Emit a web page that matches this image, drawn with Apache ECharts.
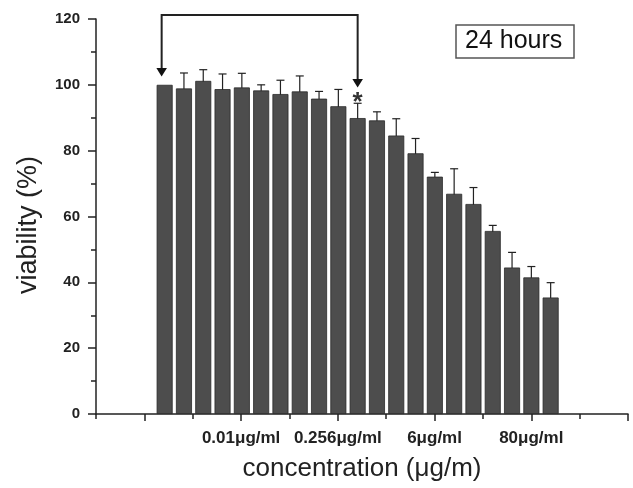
<!DOCTYPE html>
<html>
<head>
<meta charset="utf-8">
<script src="https://cdn.jsdelivr.net/npm/echarts@6/dist/echarts.min.js"></script>
<style>
  html, body { margin: 0; background: #fff; }
  #viabilityChart { width: 633px; height: 488px; }
</style>
</head>
<body>
<div id="viabilityChart"></div>
<script>
// mean viability (%) per concentration, 24 h
const viability = [100, 98.9, 101.2, 98.7, 99.2, 98.3, 97.2, 98.0, 95.8, 93.5, 89.9,
  89.2, 84.6, 79.2, 72.1, 66.9, 63.8, 55.6, 44.5, 41.5, 35.4];
// standard deviation
const sd = [0, 4.7, 3.4, 4.6, 4.3, 1.7, 4.2, 4.7, 2.2, 5.1, 4.5,
  2.6, 5.1, 4.5, 1.3, 7.6, 5.0, 1.7, 4.6, 3.3, 4.5];
const xTickLabels = ["", "", "", "0.01μg/ml", "", "0.256μg/ml", "", "6μg/ml", "", "80μg/ml", "", ""];
const yTicks = [0, 20, 40, 60, 80, 100, 120];

// comparison bracket between control and the first significant bar
const bracketFrom = 0;
const bracketTo = 10;
const bracketTop = 121.2;
const bracketLeftTip = 102.5;
const bracketRightTip = 99.2;
const starValue = 94.6;

const ink = "#222";
const font = "Liberation Sans";
const chart = echarts.init(document.getElementById("viabilityChart"));

chart.setOption({
  animation: false,
  title: {
    text: "24 hours",
    left: 456,
    top: 25,
    padding: [3, 12, 4, 9],
    borderColor: "#555",
    borderWidth: 1.5,
    textStyle: {
      fontFamily: font,
      fontSize: 25,
      fontWeight: "normal",
      color: "#111",
      lineHeight: 26,
    },
  },
  grid: [
    // axes frame
    { left: 96, right: 5, top: 19, bottom: 74 },
    // bars
    { left: 155, right: 72.7, top: 19, bottom: 74 },
    // labelled (longer) x ticks, starting one step in
    { left: 144.4, right: 5, top: 19, bottom: 74 },
  ],
  xAxis: [
    {
      gridIndex: 0,
      type: "value",
      min: 0,
      max: 11,
      interval: 1,
      name: "concentration (μg/m)",
      nameLocation: "middle",
      nameGap: 42,
      nameTextStyle: { fontFamily: font, fontSize: 26, color: ink },
      axisLine: { show: true, lineStyle: { color: ink, width: 1.5 } },
      axisTick: { show: true, length: 5, lineStyle: { color: ink, width: 1.5 } },
      axisLabel: { show: false },
      splitLine: { show: false },
    },
    { gridIndex: 1, type: "category", show: false, boundaryGap: true },
    {
      gridIndex: 2,
      type: "value",
      min: 1,
      max: 11,
      interval: 2,
      axisLine: { show: false },
      axisTick: { show: true, length: 7, lineStyle: { color: ink, width: 1.5 } },
      axisLabel: {
        formatter: (v) => xTickLabels[v] || "",
        fontFamily: font,
        fontWeight: "bold",
        fontSize: 17,
        color: ink,
        margin: 16,
      },
      splitLine: { show: false },
    },
  ],
  yAxis: [
    {
      gridIndex: 0,
      type: "value",
      min: yTicks[0],
      max: yTicks[yTicks.length - 1],
      interval: 20,
      name: "viability (%)",
      nameLocation: "middle",
      nameGap: 54,
      nameTextStyle: {
        fontFamily: font,
        fontSize: 27,
        color: ink,
        padding: [0, 17, 0, 0],
      },
      axisLine: { show: true, lineStyle: { color: ink, width: 1.5 } },
      axisTick: { show: true, length: 8, lineStyle: { color: ink, width: 1.5 } },
      minorTick: { show: true, splitNumber: 2, length: 5, lineStyle: { color: ink, width: 1.5 } },
      axisLabel: {
        fontFamily: font,
        fontWeight: "bold",
        fontSize: 15,
        color: ink,
        margin: 16,
      },
      splitLine: { show: false },
    },
    { gridIndex: 1, type: "value", show: false, min: 0, max: 120 },
    { gridIndex: 2, type: "value", show: false, min: 0, max: 120 },
  ],
  series: [
    {
      type: "bar",
      xAxisIndex: 1,
      yAxisIndex: 1,
      barWidth: 16,
      data: viability,
      itemStyle: { color: "#4d4d4d", borderColor: "#2a2a2a", borderWidth: 0.8 },
    },
    {
      // error bars
      type: "custom",
      xAxisIndex: 1,
      yAxisIndex: 1,
      data: viability.map((v, i) => [i, v - sd[i], v + sd[i]]),
      renderItem(params, api) {
        if (api.value(1) === api.value(2)) return null;
        const lo = api.coord([api.value(0), api.value(1)]);
        const hi = api.coord([api.value(0), api.value(2)]);
        const w = 4;
        const style = { stroke: ink, lineWidth: 1.2 };
        return {
          type: "group",
          children: [
            { type: "line", shape: { x1: lo[0], y1: lo[1], x2: hi[0], y2: hi[1] }, style },
            { type: "line", shape: { x1: hi[0] - w, y1: hi[1], x2: hi[0] + w, y2: hi[1] }, style },
            { type: "line", shape: { x1: lo[0] - w, y1: lo[1], x2: lo[0] + w, y2: lo[1] }, style },
          ],
        };
      },
    },
    {
      // bracket with arrows and asterisk
      type: "custom",
      xAxisIndex: 1,
      yAxisIndex: 1,
      clip: false,
      data: [[bracketFrom, bracketTo]],
      renderItem(params, api) {
        const l = api.coord([api.value(0), bracketLeftTip]);
        const r = api.coord([api.value(1), bracketRightTip]);
        const top = api.coord([api.value(0), bracketTop])[1];
        const lx = l[0] - 3;
        const rx = r[0];
        const ah = 8.5;
        const aw = 5.3;
        const star = api.coord([api.value(1), starValue]);
        return {
          type: "group",
          children: [
            {
              type: "polyline",
              shape: { points: [[lx, l[1] - ah], [lx, top], [rx, top], [rx, r[1] - ah]] },
              style: { stroke: ink, lineWidth: 2, fill: null },
            },
            {
              type: "polygon",
              shape: { points: [[lx - aw, l[1] - ah], [lx + aw, l[1] - ah], [lx, l[1]]] },
              style: { fill: "#111" },
            },
            {
              type: "polygon",
              shape: { points: [[rx - aw, r[1] - ah], [rx + aw, r[1] - ah], [rx, r[1]]] },
              style: { fill: "#111" },
            },
            {
              type: "text",
              x: star[0],
              y: star[1],
              style: {
                text: "*",
                fontFamily: font,
                fontWeight: "bold",
                fontSize: 26,
                fill: "#333",
                align: "center",
                verticalAlign: "middle",
              },
            },
          ],
        };
      },
    },
  ],
});
</script>
</body>
</html>
